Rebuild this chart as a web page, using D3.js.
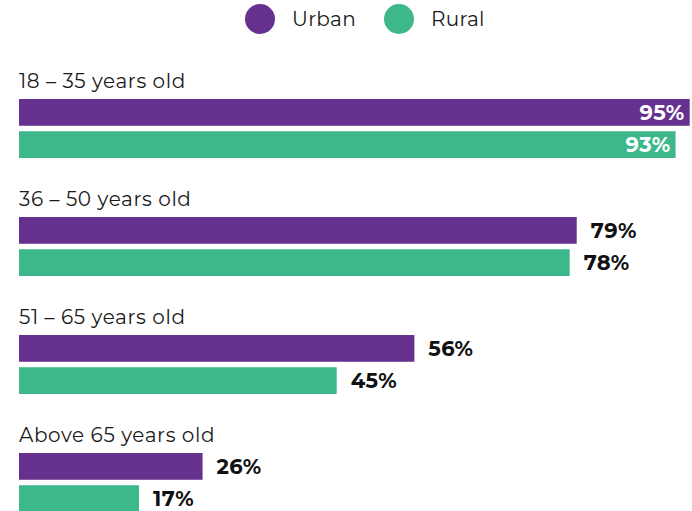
<!DOCTYPE html>
<html>
<head>
<meta charset="utf-8">
<script src="https://cdn.jsdelivr.net/npm/d3@7"></script>
<style>
  html, body { margin: 0; padding: 0; background: #fff; }
  svg { display: block; font-family: "Montserrat", "Open Sans", "Noto Sans", sans-serif; }
</style>
</head>
<body>
<svg id="chart" width="692" height="511"></svg>
<script>
// Share of respondents by age group, split by area
const ageGroups = ["18 – 35 years old", "36 – 50 years old", "51 – 65 years old", "Above 65 years old"];
const seriesNames = ["Urban", "Rural"];
const urbanValues = [95, 79, 56, 26];
const ruralValues = [93, 78, 45, 17];
const seriesColors = ["#66308f", "#3db88a"];

const svg = d3.select("#chart");

const x = d3.scaleLinear().domain([0, 100]).range([19, 725]);
const groupY = d3.scaleBand().domain(ageGroups).range([64, 536]).paddingInner(0).paddingOuter(0);
const barY = d3.scaleBand().domain(seriesNames).range([35, 94]).paddingInner(0.17);

// Legend
const legend = svg.append("g");
const legendX = [260, 399];
seriesNames.forEach((name, i) => {
  legend.append("circle")
    .attr("cx", legendX[i]).attr("cy", 19).attr("r", 15)
    .attr("fill", seriesColors[i]);
  legend.append("text")
    .attr("x", legendX[i] + 32).attr("y", 19)
    .attr("dy", "0.35em")
    .attr("font-size", 20)
    .attr("letter-spacing", 0.3)
    .attr("fill", "#1a1a1a")
    .text(name);
});

const rows = ageGroups.map((g, i) => ({
  group: g,
  values: [
    { series: "Urban", value: urbanValues[i], color: seriesColors[0] },
    { series: "Rural", value: ruralValues[i], color: seriesColors[1] }
  ]
}));

const groups = svg.selectAll("g.group")
  .data(rows)
  .join("g")
  .attr("class", "group")
  .attr("transform", d => `translate(0,${groupY(d.group)})`);

groups.append("text")
  .attr("x", 19).attr("y", 24)
  .attr("font-size", 20)
  .attr("letter-spacing", 0.6)
  .attr("fill", "#1a1a1a")
  .text(d => d.group);

const bars = groups.selectAll("g.bar")
  .data(d => d.values)
  .join("g")
  .attr("class", "bar");

bars.append("rect")
  .attr("x", x(0))
  .attr("y", d => barY(d.series))
  .attr("width", d => x(d.value) - x(0))
  .attr("height", barY.bandwidth())
  .attr("fill", d => d.color);

bars.append("text")
  .attr("x", d => d.value > 90 ? x(d.value) - 5 : x(d.value) + 14)
  .attr("y", d => barY(d.series) + barY.bandwidth() / 2)
  .attr("dy", "0.36em")
  .attr("text-anchor", d => d.value > 90 ? "end" : "start")
  .attr("font-size", 21)
  .attr("letter-spacing", 0.4)
  .attr("font-weight", 700)
  .attr("fill", d => d.value > 90 ? "#fff" : "#111")
  .text(d => d.value + "%");
</script>
</body>
</html>
